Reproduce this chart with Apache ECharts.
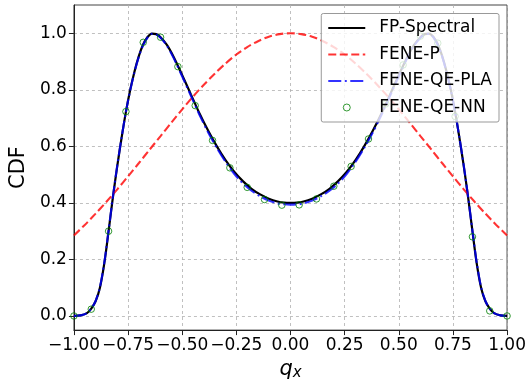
<!DOCTYPE html>
<html>
<head>
<meta charset="utf-8">
<script src="https://cdn.jsdelivr.net/npm/echarts@6/dist/echarts.min.js"></script>
<style>html,body{margin:0;padding:0;background:#fff}#c{width:529px;height:386px}</style>
</head>
<body>
<div id="c"></div>
<script>
// x grid for the FP-Spectral and FENE-QE-PLA curves
var qGrid = [-1.00,-0.97,-0.94,-0.92,-0.90,-0.88,-0.86,-0.84,-0.82,-0.80,-0.78,-0.76,-0.74,-0.72,-0.70,-0.68,-0.66,-0.64,-0.62,-0.60,-0.57,-0.54,-0.50,-0.46,-0.42,-0.38,-0.34,-0.30,-0.26,-0.22,-0.18,-0.14,-0.10,-0.06,-0.03,0.00,
  0.03,0.06,0.10,0.14,0.18,0.22,0.26,0.30,0.34,0.38,0.42,0.46,0.50,0.54,0.57,0.60,0.62,0.64,0.66,0.68,0.70,0.72,0.74,0.76,0.78,0.80,0.82,0.84,0.86,0.88,0.90,0.92,0.94,0.97,1.00];
var fpSpectral = [0.000,0.002,0.010,0.026,0.052,0.100,0.185,0.300,0.420,0.530,0.630,0.722,0.800,0.866,0.920,0.961,0.987,0.999,0.997,0.986,0.958,0.917,0.852,0.784,0.716,0.655,0.600,0.551,0.510,0.477,0.450,0.430,0.415,0.405,0.401,0.400,
  0.401,0.405,0.415,0.430,0.450,0.477,0.510,0.551,0.600,0.655,0.716,0.784,0.852,0.917,0.958,0.986,0.997,0.999,0.987,0.961,0.920,0.866,0.800,0.722,0.630,0.530,0.420,0.300,0.185,0.100,0.052,0.026,0.010,0.002,0.000];
var feneQEPLA = [0.000,0.002,0.010,0.026,0.053,0.102,0.188,0.302,0.422,0.532,0.631,0.722,0.799,0.864,0.918,0.959,0.985,0.998,0.996,0.984,0.955,0.913,0.847,0.779,0.711,0.649,0.594,0.545,0.503,0.469,0.443,0.423,0.408,0.398,0.395,0.394,
  0.395,0.398,0.408,0.423,0.443,0.469,0.503,0.545,0.594,0.649,0.711,0.779,0.847,0.913,0.955,0.984,0.996,0.998,0.985,0.959,0.918,0.864,0.799,0.722,0.631,0.532,0.422,0.302,0.188,0.102,0.053,0.026,0.010,0.002,0.000];
// FENE-P curve
var qGridP = [-1.00,-0.95,-0.90,-0.85,-0.80,-0.75,-0.70,-0.65,-0.60,-0.55,-0.50,-0.45,-0.40,-0.35,-0.30,-0.25,-0.20,-0.15,-0.10,-0.05,0.00,
  0.05,0.10,0.15,0.20,0.25,0.30,0.35,0.40,0.45,0.50,0.55,0.60,0.65,0.70,0.75,0.80,0.85,0.90,0.95,1.00];
var feneP = [0.285,0.322,0.362,0.404,0.448,0.494,0.541,0.589,0.636,0.684,0.731,0.776,0.818,0.857,0.893,0.925,0.951,0.972,0.988,0.997,1.000,
  0.997,0.988,0.972,0.951,0.925,0.893,0.857,0.818,0.776,0.731,0.684,0.636,0.589,0.541,0.494,0.448,0.404,0.362,0.322,0.285];
// FENE-QE-NN markers
var nnX = [-1.00,-0.92,-0.84,-0.76,-0.68,-0.60,-0.52,-0.44,-0.36,-0.28,-0.20,-0.12,-0.04,0.04,0.12,0.20,0.28,0.36,0.44,0.52,0.60,0.68,0.76,0.84,0.92,1.00];
var nnY = [0.000,0.024,0.300,0.723,0.968,0.986,0.882,0.744,0.621,0.524,0.455,0.412,0.392,0.393,0.414,0.459,0.529,0.626,0.750,0.888,0.990,0.965,0.706,0.280,0.018,0.000];
// ticks
var xTicks = [-1.00,-0.75,-0.50,-0.25,0.00,0.25,0.50,0.75,1.00];
var yTicks = [0.0,0.2,0.4,0.6,0.8,1.0];

function zip(a,b){return a.map(function(v,i){return [v,b[i]];});}
var FONT = 'DejaVu Sans';
var chart = echarts.init(document.getElementById('c'));
chart.setOption({
  animation:false,
  backgroundColor:'#fff',
  textStyle:{fontFamily:FONT},
  grid:{left:70,right:21,top:5,bottom:54,show:true,borderColor:'#444',borderWidth:1,backgroundColor:'transparent'},
  legend:{
    orient:'vertical', right:30, top:13.5, z:20,
    itemWidth:37, itemHeight:7, itemGap:9.5,
    padding:[6,7,6,6],
    backgroundColor:'rgba(255,255,255,0.8)', borderColor:'#999', borderWidth:1, borderRadius:2,
    textStyle:{fontFamily:FONT,fontSize:17,color:'#000',lineHeight:17,padding:[0,0,0,9]},
    data:[
      {name:'FP-Spectral',itemStyle:{opacity:0}},
      {name:'FENE-P',itemStyle:{opacity:0}},
      {name:'FENE-QE-PLA',itemStyle:{opacity:0}},
      {name:'FENE-QE-NN',icon:'circle',itemStyle:{color:'rgba(0,0,0,0)',borderColor:'#008000',borderWidth:1}}
    ]
  },
  xAxis:{
    type:'value', min:-1, max:1, interval:0.25,
    name:'{q|q}{s|x}', nameLocation:'middle', nameGap:20,
    nameTextStyle:{rich:{q:{fontFamily:FONT,fontStyle:'italic',fontSize:21,color:'#000'},s:{fontFamily:FONT,fontStyle:'italic',fontSize:15,color:'#000',padding:[8,0,0,0]}}},
    axisLine:{show:true,onZero:false,lineStyle:{color:'#222',width:1}},
    axisTick:{show:true,inside:false,length:5,lineStyle:{color:'#222'},customValues:xTicks},
    axisLabel:{fontFamily:FONT,fontSize:17,color:'#000',margin:7,customValues:xTicks,
      formatter:function(v){return v.toFixed(2).replace('-','\u2212');}},
    splitLine:{show:true,lineStyle:{color:'#b0b0b0',type:[3,3],width:0.8}}
  },
  yAxis:{
    type:'value', min:-0.05, max:1.1,
    name:'CDF', nameLocation:'middle', nameGap:42,
    nameTextStyle:{fontFamily:FONT,fontSize:21,color:'#000'},
    axisLine:{show:true,onZero:false,lineStyle:{color:'#222',width:1}},
    axisTick:{show:true,inside:false,length:5,lineStyle:{color:'#222'},customValues:yTicks},
    axisLabel:{fontFamily:FONT,fontSize:17,color:'#000',margin:7,customValues:yTicks,
      formatter:function(v){return v.toFixed(1).replace('-','\u2212');}},
    splitLine:{show:true,lineStyle:{color:'#b0b0b0',type:[3,3],width:0.8}}
  },
  series:[
    {name:'FP-Spectral',type:'line',data:zip(qGrid,fpSpectral),showSymbol:false,symbol:'none',smooth:0.3,
      lineStyle:{color:'#000',width:2.2},itemStyle:{color:'#000'},z:2},
    {name:'FENE-P',type:'line',data:zip(qGridP,feneP),showSymbol:false,symbol:'none',smooth:0.3,
      lineStyle:{color:'rgba(255,0,0,0.8)',width:2.1,type:[8,3.5]},itemStyle:{color:'rgba(255,0,0,0.8)'},z:2},
    {name:'FENE-QE-PLA',type:'line',data:zip(qGrid,feneQEPLA),showSymbol:false,symbol:'none',smooth:0.3,
      lineStyle:{color:'rgba(0,0,255,0.8)',width:2.1,type:[13,3.5,2,3.5]},itemStyle:{color:'rgba(0,0,255,0.8)'},z:2},
    {name:'FENE-QE-NN',type:'scatter',data:zip(nnX,nnY),symbol:'circle',symbolSize:6.5,
      itemStyle:{color:'rgba(0,0,0,0)',borderColor:'#008000',borderWidth:1},z:2}
  ]
});
</script>
</body>
</html>
